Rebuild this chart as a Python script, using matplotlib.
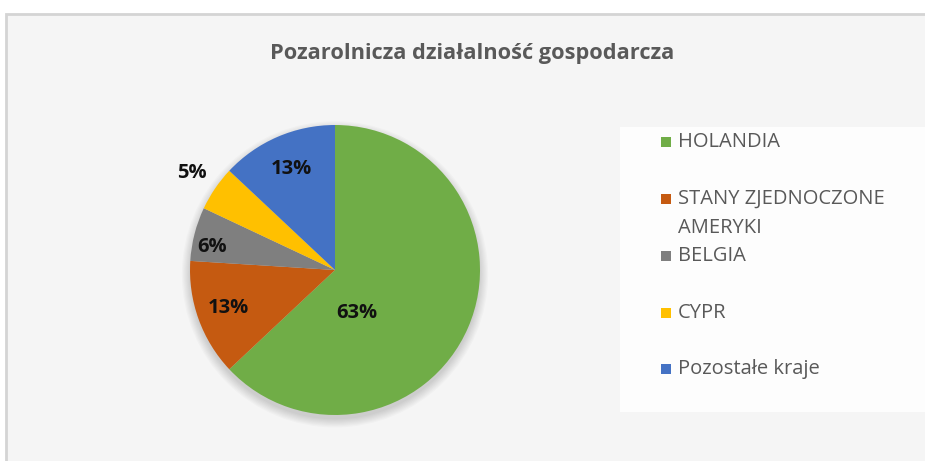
import numpy as np
import matplotlib.pyplot as plt
from matplotlib.patches import Rectangle, Circle

# data
labels = ['HOLANDIA', 'STANY ZJEDNOCZONE\nAMERYKI', 'BELGIA', 'CYPR', 'Pozostałe kraje']
values = [63, 13, 6, 5, 13]
colors = ['#70ad47', '#c55a11', '#7f7f7f', '#ffc000', '#4472c4']
title = 'Pozarolnicza działalność gospodarcza'

# label placement (radius fraction, angle shift in degrees) per slice
lab_r = [0.33, 0.78, 0.86, 1.19, 0.76]
lab_shift = [-40, 0, 4, 0, 0]

W, H = 925, 461
fig = plt.figure(figsize=(W / 100, H / 100), dpi=100)
fig.patch.set_facecolor('white')
plt.rcParams['font.family'] = ['Open Sans', 'DejaVu Sans']

# chart area frame
fig.patches.append(Rectangle((6 / W, -0.1), 1.0, (H - 14) / H + 0.1, transform=fig.transFigure,
                             facecolor='#f5f5f5', edgecolor='#d4d4d4', linewidth=2, zorder=0))

# pie
cx, cy, r = 335, 270, 145
ax = fig.add_axes([(cx - r) / W, (H - cy - r) / H, 2 * r / W, 2 * r / H])
ax.set_zorder(5)
ax.patch.set_visible(False)

# soft shadow under the pie
for k in range(8):
    ax.add_patch(Circle((0, -0.03), 1.0 + 0.008 * k, facecolor='black', alpha=0.018,
                        edgecolor='none', zorder=0, clip_on=False))

wedges, _ = ax.pie(values, colors=colors, startangle=90, counterclock=False, radius=1,
                   wedgeprops=dict(linewidth=0, zorder=2))
ax.set_xlim(-1, 1)
ax.set_ylim(-1, 1)
ax.set_aspect('equal')
ax.axis('off')

for w, v, rr, sh in zip(wedges, values, lab_r, lab_shift):
    ang = np.deg2rad((w.theta1 + w.theta2) / 2 + sh)
    ax.text(rr * np.cos(ang), rr * np.sin(ang), f'{v}%', ha='center', va='center',
            fontsize=14.5, fontweight='bold', color='#111111', zorder=4)

fig.text(472 / W, 1 - 53 / H, title, ha='center', va='center', fontsize=15.7,
         fontweight='bold', color='#595959', zorder=3)

# legend box
fig.patches.append(Rectangle((620 / W, 1 - 412 / H), (W - 620) / W, 285 / H,
                             transform=fig.transFigure, facecolor='#fdfdfd', edgecolor='none', zorder=1))
row_y = [142, 199, 256, 313, 369]
for lab, col, y in zip(labels, colors, row_y):
    fig.patches.append(Rectangle((661 / W, 1 - (y + 5) / H), 10 / W, 10 / H, transform=fig.transFigure,
                                 facecolor=col, edgecolor='none', zorder=2))
    for i, line in enumerate(lab.split('\n')):
        fig.text(678 / W, 1 - (y + 29 * i) / H, line, ha='left', va='center', fontsize=14.5,
                 color='#595959', zorder=3)

fig.savefig('out.png', dpi=100)
